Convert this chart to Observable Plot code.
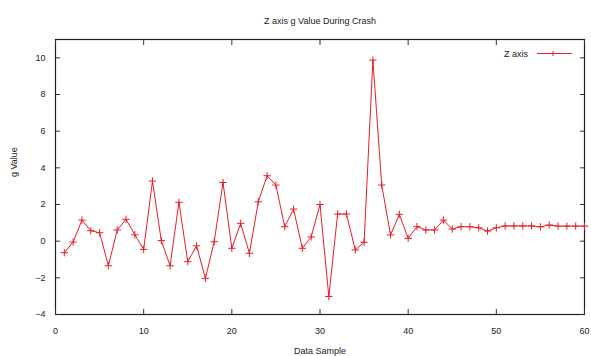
<!DOCTYPE html>
<html>
<head>
<meta charset="utf-8">
<script src="https://cdn.jsdelivr.net/npm/d3@7"></script>
<script src="https://cdn.jsdelivr.net/npm/@observablehq/plot@0.6"></script>
<style>
  html, body { margin: 0; padding: 0; background: #fff; }
  #chart { width: 591px; height: 356px; }
  svg { font-family: "Liberation Sans", Arial, sans-serif; }
</style>
</head>
<body>
<div id="chart"></div>
<script>
const title = "Z axis g Value During Crash";
const xLabel = "Data Sample";
const yLabel = "g Value";
const seriesName = "Z axis";
const samples = d3.range(1, 61);
const zValues = [
  -0.63, -0.05, 1.15, 0.57, 0.46, -1.34, 0.61, 1.19, 0.35, -0.45,
  3.28, 0.03, -1.34, 2.12, -1.12, -0.25, -2.03, -0.03, 3.2, -0.39,
  0.97, -0.66, 2.15, 3.57, 3.06, 0.79, 1.75, -0.39, 0.23, 2.0,
  -3.02, 1.48, 1.48, -0.48, -0.06, 9.88, 3.06, 0.34, 1.46, 0.15,
  0.79, 0.61, 0.61, 1.15, 0.66, 0.79, 0.79, 0.73, 0.55, 0.73,
  0.83, 0.83, 0.83, 0.83, 0.78, 0.88, 0.82, 0.82, 0.82, 0.82
];
const xTicks = [0, 10, 20, 30, 40, 50, 60];
const yTicks = [-4, -2, 0, 2, 4, 6, 8, 10];

const data = samples.map((s, i) => ({sample: s, value: zValues[i]}));
const red = "#e5202a";

const legendMark = (index, scales, values, dims) => {
  const g = d3.create("svg:g");
  const right = dims.width - dims.marginRight;
  const y = dims.marginTop + 14.5;
  g.append("text")
    .attr("x", right - 56).attr("y", y).attr("dy", "0.35em")
    .attr("text-anchor", "end").attr("font-size", 9).attr("fill", "#222")
    .text(seriesName);
  g.append("line")
    .attr("x1", right - 47).attr("x2", right - 12).attr("y1", y).attr("y2", y)
    .attr("stroke", red).attr("stroke-width", 1);
  g.append("path")
    .attr("d", `M${right - 31},${y - 2.5}V${y + 2.5}M${right - 33.5},${y}H${right - 28.5}`)
    .attr("stroke", red).attr("stroke-width", 1);
  return g.node();
};

const chart = Plot.plot({
  width: 591,
  height: 356,
  marginTop: 39,
  marginBottom: 42,
  marginLeft: 55,
  marginRight: 7,
  style: {fontFamily: "Liberation Sans, Arial, sans-serif", fontSize: "9px", color: "#222", background: "#fff"},
  x: {domain: [0, 60]},
  y: {domain: [-4, 11]},
  marks: [
    Plot.frame({stroke: "#222", strokeWidth: 1.2}),
    Plot.axisX(xTicks, {anchor: "bottom", tickSize: -5, tickPadding: 18, label: null, stroke: "#333"}),
    Plot.axisX(xTicks, {anchor: "top", tickSize: -5, tickFormat: () => "", label: null, stroke: "#333"}),
    Plot.axisY(yTicks, {anchor: "left", tickSize: -5, tickPadding: 15, label: null, stroke: "#333"}),
    Plot.axisY(yTicks, {anchor: "right", tickSize: -5, tickFormat: () => "", label: null, stroke: "#333"}),
    Plot.line(data, {x: "sample", y: "value", stroke: red, strokeWidth: 1}),
    Plot.dot(data, {x: "sample", y: "value", symbol: "plus", r: 2.5, stroke: red, strokeWidth: 1}),
    Plot.text([title], {frameAnchor: "top", dy: -22, fontSize: 9, fill: "#222"}),
    Plot.text([xLabel], {frameAnchor: "bottom", dy: 39, fontSize: 9, fill: "#222"}),
    Plot.text([yLabel], {frameAnchor: "left", dx: -41, rotate: -90, fontSize: 9, fill: "#222"}),
    legendMark
  ]
});
document.getElementById("chart").appendChild(chart);
</script>
</body>
</html>
